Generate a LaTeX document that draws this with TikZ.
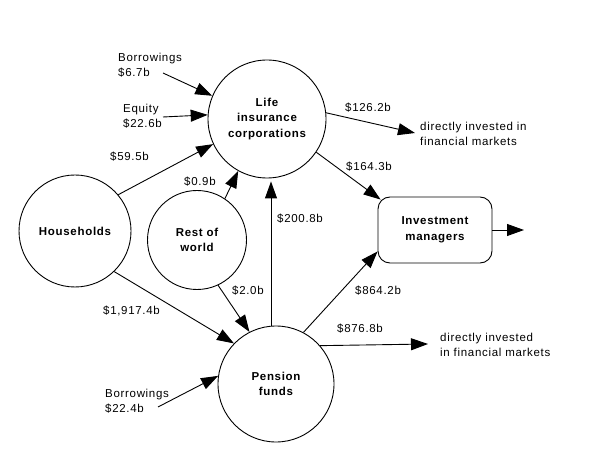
\documentclass[tikz,border=0pt]{standalone}
\usepackage{fontspec}
\setmainfont{Liberation Sans}[LetterSpace=6]
\usetikzlibrary{arrows.meta}
\begin{document}
\begin{tikzpicture}[x=1pt,y=-1pt,
  every node/.style={font=\fontsize{11.5}{15.5}\selectfont, inner sep=0pt},
  circ/.style={circle, draw, line width=0.9pt, align=center, font=\fontsize{11.5}{15.5}\selectfont\bfseries},
  lbl/.style={anchor=west, align=left},
  flow/.style={line width=0.9pt, -{Triangle[length=17pt,width=12pt]}}]
\useasboundingbox (0,0) rectangle (589,462);
% main nodes
\node[circ, minimum size=118pt] (life) at (267,119) {Life\\insurance\\corporations};
\node[circ, minimum size=112pt] (hh) at (75,231) {Households};
\node[circ, minimum size=99pt] (rw) at (197,240) {Rest of\\world};
\node[circ, minimum size=116pt] (pen) at (276,384) {Pension\\funds};
\node[draw, line width=0.9pt, rounded corners=12pt, minimum width=114pt, minimum height=66pt, align=center, font=\fontsize{11.5}{15.5}\selectfont\bfseries] (inv) at (435,230) {Investment\\managers};
% labels
\node[lbl] (borL) at (118,65) {Borrowings\\\$6.7b};
\node[lbl] (eqL) at (123,116) {Equity\\\$22.6b};
\node[lbl] (l595) at (110,157) {\$59.5b};
\node[lbl] (l09) at (184,182) {\$0.9b};
\node[lbl] (l2008) at (277,219) {\$200.8b};
\node[lbl] (l19174) at (103,311) {\$1,917.4b};
\node[lbl] (l20) at (232,291) {\$2.0b};
\node[lbl] (borP) at (105,401) {Borrowings\\\$22.4b};
\node[lbl] (l1262) at (345,108) {\$126.2b};
\node[lbl] (dirL) at (420,134) {directly invested in\\financial markets};
\node[lbl] (l1643) at (346,167) {\$164.3b};
\node[lbl] (l8642) at (355,291) {\$864.2b};
\node[lbl] (l8768) at (337,329) {\$876.8b};
\node[lbl] (dirP) at (440,345) {directly invested\\in financial markets};
% free ends
\coordinate (sBor) at (163,73);
\coordinate (sEq) at (163,117);
\coordinate (sBorP) at (158,407);
\coordinate (eDirL) at (415,133);
\coordinate (eDirP) at (428,344);
\coordinate (eOut) at (524,230);
% connectors
\draw[flow] (sBor) -- (life.157);
\draw[flow] (sEq) -- (life.176);
\draw[flow] (hh.40) -- (life.205);
\draw[flow] (rw.56) -- (life.241);
\draw[flow] ([xshift=-5pt]pen.north) -- ([xshift=4pt,yshift=-3pt]life.south);
\draw[flow] (hh.314) -- (pen.136);
\draw[flow] (rw.295) -- (pen.117);
\draw[flow] (sBorP) -- (pen.172);
\draw[flow] (life.6) -- (eDirL);
\draw[flow] (life.326) -- ([shift={(3,3)}]inv.north west);
\draw[flow] (pen.62) -- ([yshift=12pt]inv.south west);
\draw[flow] (pen.41) -- (eDirP);
\draw[flow] (inv.east) -- (eOut);
\end{tikzpicture}
\end{document}
